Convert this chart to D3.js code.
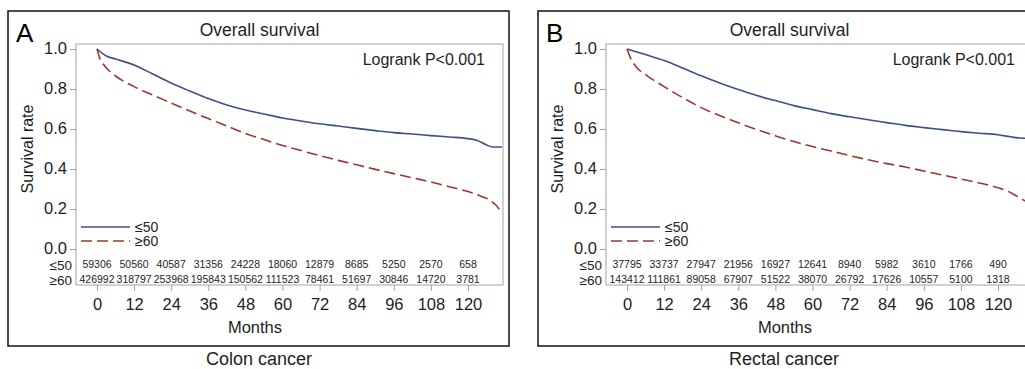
<!DOCTYPE html>
<html><head><meta charset="utf-8">
<script src="https://cdn.jsdelivr.net/npm/d3@7"></script>
<style>
body{margin:0;background:#fff;}
svg{display:block;font-family:"Liberation Sans",Arial,sans-serif;}
</style></head>
<body><svg id="c" width="1025" height="369"></svg>
<script>
// ---- data ----
const tickMonths = [0, 12, 24, 36, 48, 60, 72, 84, 96, 108, 120];
const yTicks = [0, 0.2, 0.4, 0.6, 0.8, 1.0];
const groups = ["≤50", "≥60"];

const riskA50 = [59306, 50560, 40587, 31356, 24228, 18060, 12879, 8685, 5250, 2570, 658];
const riskA60 = [426992, 318797, 253968, 195843, 150562, 111523, 78461, 51697, 30846, 14720, 3781];
const riskB50 = [37795, 33737, 27947, 21956, 16927, 12641, 8940, 5982, 3610, 1766, 490];
const riskB60 = [143412, 111861, 89058, 67907, 51522, 38070, 26792, 17626, 10557, 5100, 1318];

// survival curves: [month, survival]
const survA50 = [[0,1.0],[3,0.965],[6,0.95],[12,0.92],[18,0.875],[24,0.83],[30,0.79],[36,0.752],[42,0.72],[48,0.695],[54,0.675],[60,0.655],[66,0.64],[72,0.626],[78,0.615],[84,0.603],[90,0.592],[96,0.582],[102,0.575],[108,0.567],[114,0.56],[120,0.552],[123,0.543],[126,0.52],[128,0.51],[131,0.51]];
const survA60 = [[0,1.0],[1,0.95],[2,0.925],[4,0.89],[6,0.865],[12,0.812],[18,0.77],[24,0.73],[30,0.69],[36,0.652],[42,0.615],[48,0.578],[54,0.547],[60,0.518],[66,0.492],[72,0.467],[78,0.443],[84,0.421],[90,0.398],[96,0.377],[102,0.356],[108,0.335],[114,0.311],[120,0.287],[124,0.265],[127,0.245],[129,0.22],[131,0.18]];
const survB50 = [[0,1.0],[6,0.972],[12,0.942],[18,0.905],[24,0.866],[30,0.83],[36,0.797],[42,0.767],[48,0.742],[54,0.717],[60,0.697],[66,0.677],[72,0.661],[78,0.646],[84,0.632],[90,0.618],[96,0.607],[102,0.597],[108,0.587],[114,0.579],[120,0.571],[124,0.561],[127,0.555],[131,0.553]];
const survB60 = [[0,1.0],[1,0.96],[3,0.91],[6,0.872],[12,0.812],[18,0.757],[24,0.707],[30,0.667],[36,0.631],[42,0.597],[48,0.566],[54,0.537],[60,0.512],[66,0.49],[72,0.467],[78,0.446],[84,0.427],[90,0.41],[96,0.39],[102,0.37],[108,0.35],[114,0.33],[120,0.306],[123,0.29],[126,0.265],[129,0.238],[131,0.22]];

const panels = [
  {letter:"A", caption:"Colon cancer", s50:survA50, s60:survA60, r50:riskA50, r60:riskA60, dx:0, capX:259},
  {letter:"B", caption:"Rectal cancer", s50:survB50, s60:survB60, r50:riskB50, r60:riskB60, dx:530, capX:784}
];

const blue = "#3e4f8e", red = "#a0362f", gray = "#a3a3a3", txt = "#1e1e1e";
const svg = d3.select("#c");

panels.forEach(p => {
  const g = svg.append("g").attr("transform", `translate(${p.dx},0)`);
  const x = d3.scaleLinear().domain([0, 120]).range([97, 468]);
  const y = d3.scaleLinear().domain([0, 1]).range([249, 49]);
  const plotL = 76, plotR = 503, plotT = 44, plotB = 285;

  // outer frame
  g.append("rect").attr("x", 8).attr("y", 11).attr("width", 501).attr("height", 335)
    .attr("fill", "none").attr("stroke", "#111").attr("stroke-width", 1.5);
  // plot border
  g.append("rect").attr("x", plotL).attr("y", plotT).attr("width", plotR - plotL).attr("height", plotB - plotT)
    .attr("fill", "none").attr("stroke", gray).attr("stroke-width", 1);

  // title & letter
  g.append("text").attr("x", 259.5).attr("y", 35.5).attr("text-anchor", "middle")
    .attr("font-size", 17.5).attr("fill", txt).text("Overall survival");
  g.append("text").attr("x", 16).attr("y", 42).attr("font-size", 26).attr("fill", "#000").text(p.letter);
  g.append("text").attr("x", 485).attr("y", 65).attr("text-anchor", "end")
    .attr("font-size", 16).attr("fill", txt).text("Logrank P<0.001");

  // y axis
  const ya = g.append("g").attr("transform", `translate(${plotL},0)`)
    .call(d3.axisLeft(y).tickValues(yTicks).tickFormat(d3.format(".1f")).tickSize(6).tickPadding(3));
  ya.select(".domain").remove();
  ya.selectAll("line").attr("stroke", gray);
  ya.selectAll("text").attr("font-size", 16.5).attr("fill", txt).attr("dy", "0.3em")
    .attr("font-family", "Liberation Sans, Arial, sans-serif");
  g.append("text").attr("transform", "translate(33,149) rotate(-90)").attr("text-anchor", "middle")
    .attr("font-size", 16).attr("fill", txt).text("Survival rate");

  // x axis
  const xa = g.append("g").attr("transform", `translate(0,${plotB})`)
    .call(d3.axisBottom(x).tickValues(tickMonths).tickSize(6).tickPadding(7));
  xa.select(".domain").remove();
  xa.selectAll("line").attr("stroke", gray);
  xa.selectAll("text").attr("font-size", 16.5).attr("fill", txt).attr("font-family", "Liberation Sans, Arial, sans-serif");
  g.append("text").attr("x", 255).attr("y", 333).attr("text-anchor", "middle")
    .attr("font-size", 16.5).attr("fill", txt).text("Months");

  // caption
  svg.append("text").attr("x", p.capX).attr("y", 365).attr("text-anchor", "middle")
    .attr("font-size", 18).attr("fill", txt).text(p.caption);

  // curves
  const line = d3.line().x(d => x(d[0])).y(d => y(d[1])).curve(d3.curveMonotoneX);
  g.append("path").datum(p.s50).attr("d", line).attr("fill", "none")
    .attr("stroke", blue).attr("stroke-width", 1.6);
  g.append("path").datum(p.s60).attr("d", line).attr("fill", "none")
    .attr("stroke", red).attr("stroke-width", 1.6).attr("stroke-dasharray", "11,5");

  // legend
  const lg = [{c: blue, dash: null, yy: 227, t: groups[0]}, {c: red, dash: "11,5", yy: 241, t: groups[1]}];
  lg.forEach(l => {
    g.append("line").attr("x1", 81).attr("x2", 130).attr("y1", l.yy).attr("y2", l.yy)
      .attr("stroke", l.c).attr("stroke-width", 1.6).attr("stroke-dasharray", l.dash);
    g.append("text").attr("x", 135).attr("y", l.yy + 5).attr("font-size", 14).attr("fill", txt).text(l.t);
  });

  // risk table
  const rows = [{lab: groups[0], vals: p.r50, yy: 264.5}, {lab: groups[1], vals: p.r60, yy: 279.5}];
  rows.forEach(r => {
    g.append("text").attr("x", 72).attr("y", r.yy + 5).attr("text-anchor", "end")
      .attr("font-size", 13.5).attr("fill", txt).text(r.lab);
    g.selectAll(null).data(r.vals).enter().append("text")
      .attr("x", (d, i) => x(tickMonths[i])).attr("y", r.yy + 3.7).attr("text-anchor", "middle")
      .attr("font-size", 10.5).attr("fill", txt).text(d => d);
  });
});
</script></body></html>
